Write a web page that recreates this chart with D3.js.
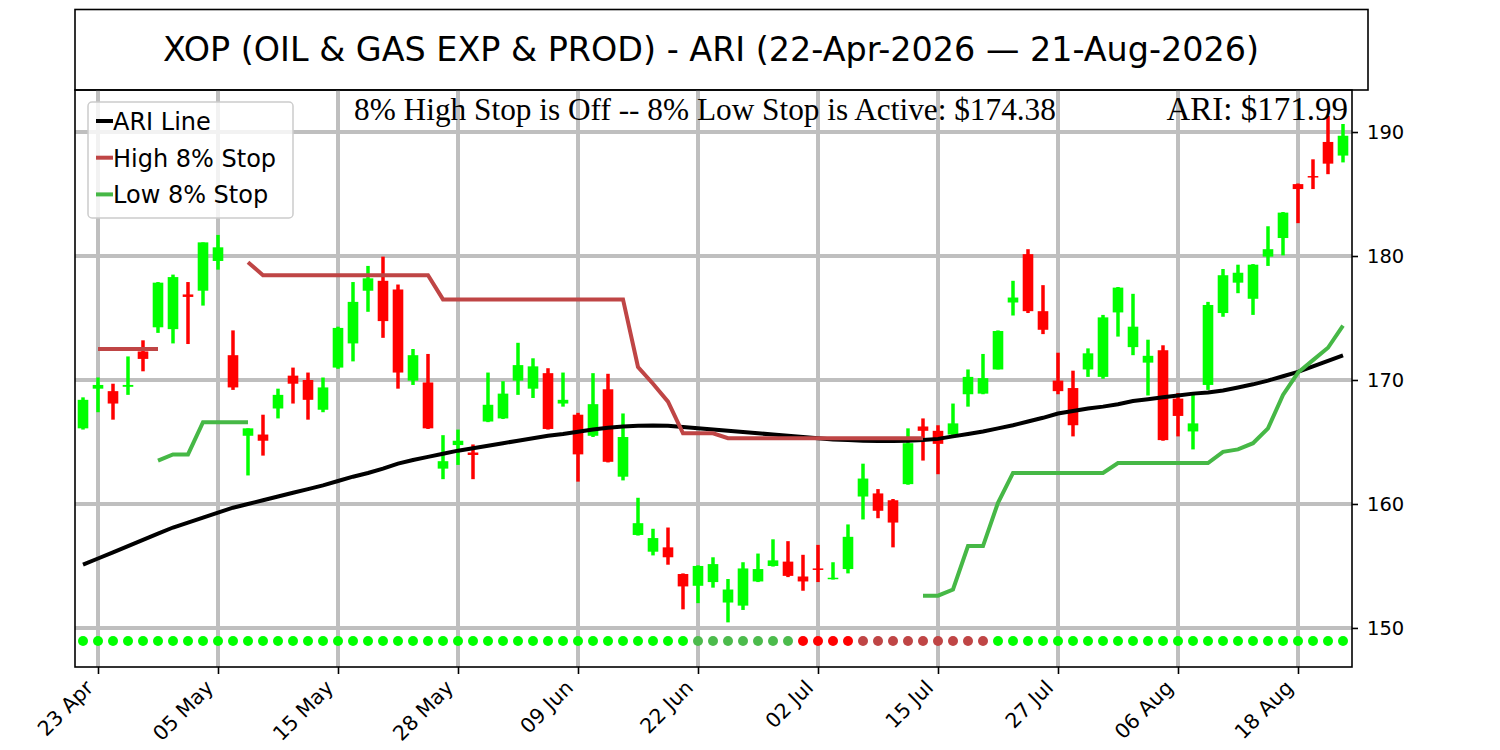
<!DOCTYPE html>
<html>
<head>
<meta charset="utf-8">
<script src="https://cdn.jsdelivr.net/npm/d3@7"></script>
<style>
  body { margin: 0; background: #fff; }
  text { font-family: "DejaVu Sans", sans-serif; }
</style>
</head>
<body>
<script>
// trading-day candles, 22-Apr-2026 .. 21-Aug-2026 (index 0..84)
const opens = [166.1,169.3,169.1,169.45,172.3,174.25,174.1,176.9,177.2,179.6,
  172.0,165.5,165.6,167.7,170.35,170.0,167.6,171.0,172.95,177.2,
  178.0,177.3,169.95,169.8,162.85,164.75,164.15,166.65,166.9,169.95,
  169.3,170.55,168.1,167.2,165.5,169.25,162.2,157.5,156.15,156.5,
  154.35,153.4,153.7,152.05,151.8,153.75,155.0,155.35,154.15,154.8,
  153.95,154.75,160.6,160.85,160.3,161.6,166.25,165.9,165.6,168.85,
  168.9,170.85,176.25,180.15,175.55,169.95,169.35,170.85,170.25,175.45,
  172.65,171.4,172.4,168.5,165.85,169.6,175.4,177.85,176.55,179.95,
  181.45,185.8,186.45,189.2,188.1]
const highs = [168.6,170.2,169.7,171.9,173.2,177.9,178.5,177.9,181.1,181.7,
  174.0,166.1,167.2,169.3,171.0,170.6,170.2,174.3,177.9,179.2,
  179.95,177.7,172.5,172.1,165.55,166.0,164.8,170.6,169.9,173.0,
  171.75,170.95,170.6,167.35,170.55,170.5,167.3,160.5,158.0,158.1,
  154.4,155.05,155.7,153.95,155.3,156.0,157.15,157.0,155.9,156.7,
  155.3,158.35,163.25,161.2,160.4,166.1,166.9,166.35,168.1,170.85,
  172.1,174.0,178.0,180.55,177.65,172.2,170.75,172.55,175.25,177.5,
  176.95,173.25,172.8,168.95,168.8,176.3,178.95,179.3,179.35,182.4,
  183.55,185.85,187.8,191.3,190.65]
const lows = [166.0,167.4,166.8,168.8,170.7,173.8,172.95,172.9,176.0,178.9,
  169.2,162.3,163.9,166.9,168.1,166.8,167.4,170.9,171.5,175.5,
  173.4,169.3,169.6,166.05,162.0,163.15,162.0,166.6,166.85,168.8,
  168.55,166.0,167.85,161.8,165.4,163.35,161.9,157.45,155.85,155.1,
  151.5,152.0,153.25,150.45,151.45,153.7,154.95,154.1,153.0,153.7,
  153.9,154.4,158.75,158.85,156.5,161.55,163.5,162.4,165.55,167.85,
  168.85,170.85,175.2,175.4,173.7,168.85,165.45,170.25,170.1,173.5,
  172.0,168.75,165.1,165.45,164.4,169.2,175.1,177.0,175.25,179.2,
  180.05,182.65,185.4,186.6,187.55]
const closes = [168.4,169.6,168.1,169.6,171.7,177.85,178.3,176.7,181.1,180.7,
  169.4,166.1,165.1,168.8,169.7,168.4,169.4,174.2,176.3,178.2,
  174.75,170.6,172.0,166.1,163.45,165.1,163.95,168.0,168.9,171.2,
  171.1,166.05,168.4,164.0,168.05,163.4,165.4,158.45,157.25,155.7,
  153.35,155.0,155.15,153.1,154.8,154.75,155.45,154.2,153.75,154.7,
  154.05,157.35,162.05,159.45,158.5,164.9,165.9,164.85,166.5,170.25,
  170.15,173.95,176.65,175.55,174.05,169.1,166.35,172.15,175.05,177.45,
  174.3,171.95,165.15,167.1,166.5,176.05,178.45,178.65,179.3,180.55,
  183.5,185.4,186.35,187.45,189.7]

const ariLine = [155.1,155.6,156.1,156.6,157.1,157.6,158.1,158.5,158.9,159.3,
  159.7,160.0,160.3,160.6,160.9,161.2,161.5,161.85,162.2,162.5,
  162.85,163.25,163.55,163.8,164.05,164.3,164.5,164.7,164.9,165.1,
  165.3,165.5,165.65,165.83,166.0,166.15,166.25,166.3,166.33,166.3,
  166.2,166.1,166.0,165.9,165.8,165.7,165.6,165.5,165.4,165.3,
  165.2,165.15,165.1,165.08,165.08,165.1,165.15,165.25,165.45,165.65,
  165.85,166.1,166.35,166.65,166.95,167.3,167.5,167.7,167.85,168.05,
  168.3,168.45,168.6,168.75,168.9,169.0,169.15,169.4,169.65,169.95,
  170.3,170.65,171.1,171.55,171.99]

const highStop = [null,172.5,172.5,172.5,172.5,172.5,null,null,null,null,
  null,179.5,178.45,178.45,178.45,178.45,178.45,178.45,178.45,178.45,
  178.45,178.45,178.45,178.45,176.5,176.5,176.5,176.5,176.5,176.5,
  176.5,176.5,176.5,176.5,176.5,176.5,176.5,171.05,169.7,168.25,
  165.7,165.7,165.7,165.3,165.3,165.3,165.3,165.3,165.3,165.3,
  165.3,165.3,165.3,165.3,165.3,165.3,165.3,null,null,null,
  null,null,null,null,null,null,null,null,null,null,
  null,null,null,null,null,null,null,null,null,null,
  null,null,null,null,null]

const lowStop = [null,null,null,null,null,163.5,164.0,164.0,166.6,166.6,
  166.6,166.6,null,null,null,null,null,null,null,null,
  null,null,null,null,null,null,null,null,null,null,
  null,null,null,null,null,null,null,null,null,null,
  null,null,null,null,null,null,null,null,null,null,
  null,null,null,null,null,null,152.6,152.6,153.1,156.6,
  156.6,160.1,162.5,162.5,162.5,162.5,162.5,162.5,162.5,163.3,
  163.3,163.3,163.3,163.3,163.3,163.3,164.2,164.4,164.9,166.1,
  168.8,170.6,171.6,172.6,174.38]

// stop state per day: L = low stop active, G = low stop weak, R = broken, B = high stop active
const stopState = ("LLLLLLLLLLLLLLLLLLLLLLLLLLLLLLLLLLLLLLLLL" +
  "GGGGGGG" + "RRRR" + "BBBBBBBBB" + "LLLLLLLLLLLLLLLLLLLLLLLL").split("")
const stateColor = {L: "#00ff00", G: "#4cbb4c", R: "#ff0000", B: "#bf4545"}

const tickIdx = [1,9,17,25,33,41,49,57,65,73,81]
const tickLabels = ["23 Apr","05 May","15 May","28 May","09 Jun","22 Jun","02 Jul","15 Jul","27 Jul","06 Aug","18 Aug"]
const yTicks = [150,160,170,180,190]

const titleText = "XOP (OIL & GAS EXP & PROD) - ARI (22-Apr-2026 \u2014 21-Aug-2026)"
const stopText = "8% High Stop is Off -- 8% Low Stop is Active: $174.38"
const ariText = "ARI: $171.99"
const dotLevel = 148.95

const W = 1500, H = 750
const plot = {left: 75, right: 1352, top: 90, bottom: 667}

const svg = d3.select("body").append("svg")
  .attr("width", W).attr("height", H)
svg.append("rect").attr("width", W).attr("height", H).attr("fill", "#fff")

const x = d3.scaleLinear().domain([-8 / 15, 84.6]).range([plot.left, plot.right])
const y = d3.scaleLinear().domain([146.85, 193.39]).range([plot.bottom, plot.top])

/* title box */
svg.append("rect")
  .attr("x", plot.left).attr("y", 9.5)
  .attr("width", 1368 - plot.left).attr("height", plot.top - 9.5)
  .attr("fill", "#fff").attr("stroke", "#000").attr("stroke-width", 1.6)
svg.append("text")
  .attr("x", 711).attr("y", 61)
  .attr("text-anchor", "middle")
  .style("font-size", "33.4px")
  .text(titleText)

const g = svg.append("g")

/* grid */
g.selectAll(".vgrid").data(tickIdx).enter().append("line")
  .attr("x1", d => x(d)).attr("x2", d => x(d))
  .attr("y1", plot.top).attr("y2", plot.bottom)
  .attr("stroke", "#bfbfbf").attr("stroke-width", 4)
g.selectAll(".hgrid").data(yTicks).enter().append("line")
  .attr("x1", plot.left).attr("x2", plot.right)
  .attr("y1", d => y(d)).attr("y2", d => y(d))
  .attr("stroke", "#bfbfbf").attr("stroke-width", 4)

/* candles */
const candles = opens.map((o, i) => ({i, o, h: highs[i], l: lows[i], c: closes[i]}))
const cg = g.selectAll(".candle").data(candles).enter().append("g")
cg.append("line")
  .attr("x1", d => x(d.i)).attr("x2", d => x(d.i))
  .attr("y1", d => y(d.h)).attr("y2", d => y(d.l))
  .attr("stroke", d => d.c >= d.o ? "#00ff00" : "#ff0000")
  .attr("stroke-width", 3.5)
cg.append("rect")
  .attr("x", d => x(d.i) - 5.3).attr("width", 10.6)
  .attr("y", d => y(Math.max(d.o, d.c)))
  .attr("height", d => Math.max(1.5, Math.abs(y(d.o) - y(d.c))))
  .attr("fill", d => d.c >= d.o ? "#00ff00" : "#ff0000")

/* lines */
const line = d3.line().defined(d => d != null).x((d, i) => x(i)).y(d => y(d))
g.append("path").datum(ariLine).attr("d", line)
  .attr("fill", "none").attr("stroke", "#000").attr("stroke-width", 4)
g.append("path").datum(highStop).attr("d", line)
  .attr("fill", "none").attr("stroke", "#bf4545").attr("stroke-width", 4)
g.append("path").datum(lowStop).attr("d", line)
  .attr("fill", "none").attr("stroke", "#46b846").attr("stroke-width", 4)

/* stop state dots */
g.selectAll(".dot").data(stopState).enter().append("circle")
  .attr("cx", (d, i) => x(i)).attr("cy", y(dotLevel)).attr("r", 5)
  .attr("fill", d => stateColor[d])

/* texts inside plot */
g.append("text")
  .attr("x", 705).attr("y", 120).attr("text-anchor", "middle")
  .style("font-family", "'Liberation Serif', 'Times New Roman', serif")
  .style("font-size", "31.3px")
  .text(stopText)
g.append("text")
  .attr("x", 1348).attr("y", 120).attr("text-anchor", "end")
  .style("font-family", "'Liberation Serif', 'Times New Roman', serif")
  .style("font-size", "33px")
  .text(ariText)

/* frame */
svg.append("rect")
  .attr("x", plot.left).attr("y", plot.top)
  .attr("width", plot.right - plot.left).attr("height", plot.bottom - plot.top)
  .attr("fill", "none").attr("stroke", "#000").attr("stroke-width", 1.6)

/* axes */
const yaxis = d3.axisRight(y).tickValues(yTicks).tickSize(6).tickPadding(9)
const ya = svg.append("g")
  .attr("transform", `translate(${plot.right},0)`)
  .call(yaxis)
ya.select(".domain").remove()
ya.selectAll("line").attr("stroke-width", 1.6)
ya.selectAll("text").style("font-size", "19.5px")

const xaxis = d3.axisBottom(x).tickValues(tickIdx).tickSize(7)
  .tickFormat((d, k) => tickLabels[k])
const xa = svg.append("g")
  .attr("transform", `translate(0,${plot.bottom})`)
  .call(xaxis)
xa.select(".domain").remove()
xa.selectAll("line").attr("stroke-width", 1.6)
xa.selectAll("text")
  .attr("x", 0).attr("y", 0).attr("dy", 0)
  .attr("transform", "translate(-4,22) rotate(-45)")
  .style("text-anchor", "end")
  .style("font-size", "20.5px")

/* legend */
const legendItems = ["ARI Line", "High 8% Stop", "Low 8% Stop"]
const legendColors = ["#000", "#bf4545", "#46b846"]
const lg = svg.append("g")
lg.append("rect")
  .attr("x", 88).attr("y", 102).attr("width", 205).attr("height", 116)
  .attr("rx", 4).attr("fill", "#fff").attr("fill-opacity", 0.8)
  .attr("stroke", "#cccccc").attr("stroke-width", 1.5)
legendItems.forEach((name, k) => {
  const by = 130 + k * 36.7
  lg.append("line")
    .attr("x1", 96).attr("x2", 113).attr("y1", by - 9).attr("y2", by - 9)
    .attr("stroke", legendColors[k]).attr("stroke-width", 4)
  lg.append("text").attr("x", 113).attr("y", by)
    .style("font-size", "24px").text(name)
})
</script>
</body>
</html>
